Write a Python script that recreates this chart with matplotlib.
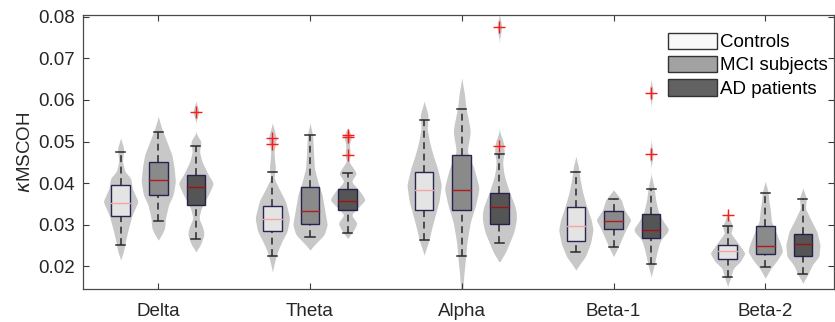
import numpy as np
import matplotlib
matplotlib.use('Agg')
import matplotlib.pyplot as plt
from matplotlib.patches import Rectangle, Patch

plt.rcParams['font.family'] = ['Liberation Sans', 'DejaVu Sans']

bands = ['Delta', 'Theta', 'Alpha', 'Beta-1', 'Beta-2']
classes = ['Controls', 'MCI subjects', 'AD patients']

# ---- box statistics (one value per band) ----
ctrl_wlo = [0.0252, 0.0224, 0.0263, 0.0234, 0.0174]
ctrl_q1 = [0.0322, 0.0284, 0.0335, 0.0262, 0.0218]
ctrl_med = [0.0353, 0.0315, 0.0383, 0.0296, 0.0237]
ctrl_q3 = [0.0396, 0.0346, 0.0427, 0.0342, 0.0251]
ctrl_whi = [0.0474, 0.0426, 0.0551, 0.0426, 0.0298]
ctrl_out = [[], [0.0508, 0.0494], [], [], [0.0323]]

mci_wlo = [0.0310, 0.0270, 0.0225, 0.0246, 0.0198]
mci_q1 = [0.0371, 0.0302, 0.0335, 0.0290, 0.0230]
mci_med = [0.0408, 0.0332, 0.0383, 0.0308, 0.0248]
mci_q3 = [0.0450, 0.0390, 0.0467, 0.0334, 0.0296]
mci_whi = [0.0522, 0.0515, 0.0578, 0.0362, 0.0376]
mci_out = [[], [], [], [], []]

ad_wlo = [0.0266, 0.0280, 0.0256, 0.0206, 0.0182]
ad_q1 = [0.0348, 0.0336, 0.0302, 0.0268, 0.0224]
ad_med = [0.0390, 0.0358, 0.0342, 0.0287, 0.0254]
ad_q3 = [0.0419, 0.0387, 0.0376, 0.0326, 0.0279]
ad_whi = [0.0490, 0.0424, 0.0471, 0.0386, 0.0362]
ad_out = [[0.0570], [0.0517, 0.0512, 0.0467], [0.0776, 0.0490], [0.0618, 0.0469], []]

# ---- violin density profiles: levels and relative widths ----
ctrl_vy = [
    [0.0508, 0.0484, 0.0452, 0.0428, 0.0412, 0.0388, 0.0356, 0.0324, 0.0292, 0.0276, 0.0260, 0.0236, 0.0216],
    [0.0544, 0.0508, 0.0476, 0.0452, 0.0436, 0.0412, 0.0388, 0.0356, 0.0316, 0.0284, 0.0260, 0.0236, 0.0212, 0.0188],
    [0.0596, 0.0564, 0.0532, 0.0500, 0.0468, 0.0436, 0.0396, 0.0356, 0.0324, 0.0292, 0.0260, 0.0228],
    [0.0464, 0.0440, 0.0408, 0.0376, 0.0344, 0.0312, 0.0288, 0.0256, 0.0224, 0.0208, 0.0192],
    [0.0332, 0.0312, 0.0296, 0.0280, 0.0260, 0.0232, 0.0212, 0.0196, 0.0172, 0.0152],
]
ctrl_vw = [
    [0, 3, 1.7, 4, 9.7, 11, 16.7, 11, 7.5, 6, 4.5, 2.7, 0],
    [0, 4, 1.5, 2.3, 3, 1.5, 6.3, 13, 17, 14.5, 9.3, 5, 2.3, 0],
    [0, 3.8, 2.8, 5, 8.3, 12.5, 16.2, 14, 10.5, 7.2, 4.2, 0],
    [0, 2.5, 4.3, 7, 10.8, 15.3, 17.2, 14.7, 9.5, 4.7, 0],
    [0, 2.2, 5, 3, 8.8, 16.7, 12.2, 5.5, 2.7, 0],
]
mci_vy = [
    [0.0560, 0.0532, 0.0500, 0.0468, 0.0436, 0.0404, 0.0372, 0.0348, 0.0316, 0.0292, 0.0276, 0.0264],
    [0.0544, 0.0516, 0.0468, 0.0436, 0.0404, 0.0372, 0.0324, 0.0300, 0.0276, 0.0256, 0.0240],
    [0.0652, 0.0612, 0.0580, 0.0548, 0.0524, 0.0500, 0.0476, 0.0436, 0.0388, 0.0348, 0.0308, 0.0260, 0.0212, 0.0172, 0.0140],
    [0.0384, 0.0360, 0.0336, 0.0312, 0.0288, 0.0264, 0.0240, 0.0224],
    [0.0404, 0.0380, 0.0356, 0.0332, 0.0308, 0.0284, 0.0252, 0.0236, 0.0216, 0.0196, 0.0172],
]
mci_vw = [
    [0, 3.3, 8.3, 13.3, 15.5, 16.7, 14.5, 10, 7, 6.3, 3.3, 0],
    [0, 2.5, 3.5, 4.2, 7.5, 11.7, 15, 16.7, 13.7, 5.8, 0],
    [0, 2.7, 4, 6.7, 8.3, 6.7, 5, 11.7, 16.7, 13.3, 8.3, 5, 3.3, 1.7, 1],
    [0, 7.5, 10.5, 16.7, 11.7, 7.5, 3.3, 0],
    [0, 2.8, 3.8, 5.3, 6.2, 10.5, 15.8, 17.5, 12.5, 5.8, 0],
]
ad_vy = [
    [0.0596, 0.0572, 0.0548, 0.0520, 0.0500, 0.0476, 0.0452, 0.0420, 0.0400, 0.0372, 0.0340, 0.0316, 0.0292, 0.0276, 0.0252, 0.0236],
    [0.0533, 0.0513, 0.0492, 0.0468, 0.0452, 0.0440, 0.0424, 0.0404, 0.0380, 0.0360, 0.0340, 0.0324, 0.0304, 0.0284, 0.0268],
    [0.0804, 0.0776, 0.0744, 0.0524, 0.0500, 0.0476, 0.0452, 0.0420, 0.0380, 0.0340, 0.0316, 0.0284, 0.0252, 0.0228, 0.0212],
    [0.0648, 0.0618, 0.0588, 0.0500, 0.0469, 0.0440, 0.0420, 0.0392, 0.0360, 0.0328, 0.0304, 0.0288, 0.0264, 0.0232, 0.0200, 0.0176],
    [0.0388, 0.0364, 0.0340, 0.0316, 0.0284, 0.0252, 0.0224, 0.0204, 0.0180, 0.0160],
]
ad_vw = [
    [0, 3, 0, 0, 5, 3.3, 5.7, 11.7, 16.7, 11.7, 5, 2.7, 6.7, 7.7, 4.3, 0],
    [0, 3.8, 1.5, 2.5, 1, 4.3, 8.3, 3.3, 11.7, 16.7, 9.2, 3.3, 9, 5, 0],
    [0, 2.5, 0, 0, 3.7, 4.7, 2.8, 4.3, 9.2, 15.3, 16.2, 13.8, 8.7, 4.7, 0],
    [0, 2, 0, 0, 2, 0, 0, 2.5, 4, 6.7, 11.7, 16.7, 8.3, 5, 2.5, 0],
    [0, 3.3, 2.3, 6.7, 13, 16, 15, 8.8, 4.5, 0],
]

stats = [
    (ctrl_wlo, ctrl_q1, ctrl_med, ctrl_q3, ctrl_whi, ctrl_out, ctrl_vy, ctrl_vw),
    (mci_wlo, mci_q1, mci_med, mci_q3, mci_whi, mci_out, mci_vy, mci_vw),
    (ad_wlo, ad_q1, ad_med, ad_q3, ad_whi, ad_out, ad_vy, ad_vw),
]

box_faces = ['#e6e6e6', '#878787', '#4f4f4f']
median_cols = ['#f4a6a6', '#b01c1c', '#9a1414']
legend_faces = ['#f8f8f8', '#a2a2a2', '#626262']
violin_col = '#c8c8c8'
offsets = [-0.248, 0.0, 0.248]
box_w = 0.123
vio_half = 0.112
cap_half = 0.03

fig = plt.figure(figsize=(8.35, 3.22), dpi=100)
ax = fig.add_axes([0.0994, 0.1016, 0.8994, 0.8527])

for c, (wlo, q1, med, q3, whi, outs, vy, vw) in enumerate(stats):
    for g in range(len(bands)):
        x = g + 1 + offsets[c]
        # violin
        ys = np.array(vy[g])[::-1]
        ws = np.array(vw[g], dtype=float)[::-1]
        grid = np.linspace(ys.min(), ys.max(), 400)
        wfine = np.interp(grid, ys, ws)
        k = np.exp(-0.5 * (np.arange(-12, 13) / 5.0) ** 2)
        k /= k.sum()
        wfine = np.convolve(np.pad(wfine, 12), k, mode='same')[12:-12]
        wfine = wfine / wfine.max() * vio_half
        ax.fill_betweenx(grid, x - wfine, x + wfine, color=violin_col,
                         lw=0, zorder=1)
        # whiskers
        ax.plot([x, x], [q3[g], whi[g]], color='#2a2a2a', lw=1.1,
                ls=(0, (4.5, 3)), zorder=2)
        ax.plot([x, x], [wlo[g], q1[g]], color='#2a2a2a', lw=1.1,
                ls=(0, (4.5, 3)), zorder=2)
        ax.plot([x - cap_half, x + cap_half], [whi[g], whi[g]],
                color='#2a2a2a', lw=1.1, zorder=2)
        ax.plot([x - cap_half, x + cap_half], [wlo[g], wlo[g]],
                color='#2a2a2a', lw=1.1, zorder=2)
        # box
        ax.add_patch(Rectangle((x - box_w / 2, q1[g]), box_w, q3[g] - q1[g],
                               facecolor=box_faces[c], edgecolor='#1c1c4a',
                               lw=1.0, alpha=0.95, zorder=3))
        ax.plot([x - box_w / 2, x + box_w / 2], [med[g], med[g]],
                color=median_cols[c], lw=1.0, zorder=4)
        # outliers
        if outs[g]:
            ax.plot([x] * len(outs[g]), outs[g], '+', color='#ff1a1a',
                    ms=8, mew=1.0, zorder=5)

ax.set_xlim(0.504, 5.453)
ax.set_ylim(0.0145, 0.0805)
ax.set_xticks(range(1, 6))
ax.set_xticklabels(bands)
ax.set_yticks([0.02, 0.03, 0.04, 0.05, 0.06, 0.07, 0.08])
ax.set_yticklabels(['0.02', '0.03', '0.04', '0.05', '0.06', '0.07', '0.08'])
ax.tick_params(axis='both', direction='in', length=4, width=0.8,
               colors='#3a3a3a', labelcolor='#262626', labelsize=13.5,
               top=True, right=True)
ax.tick_params(axis='x', pad=10)
ax.tick_params(axis='y', pad=6)
for s in ax.spines.values():
    s.set_color('#4a4a4a')
    s.set_linewidth(0.9)
ax.set_ylabel('$\\kappa$MSCOH', fontsize=13.5, color='#262626', labelpad=3)

handles = [Patch(facecolor=legend_faces[i], edgecolor='#333333', lw=1.0)
           for i in range(3)]
ax.legend(handles, classes, loc='upper left', bbox_to_anchor=(0.7995, 0.899),
          bbox_transform=fig.transFigure, frameon=False, fontsize=13.5,
          handlelength=2.65, handleheight=0.95, handletextpad=0.15,
          labelspacing=0.26, borderpad=0, borderaxespad=0)

fig.savefig('out.png', dpi=100)
